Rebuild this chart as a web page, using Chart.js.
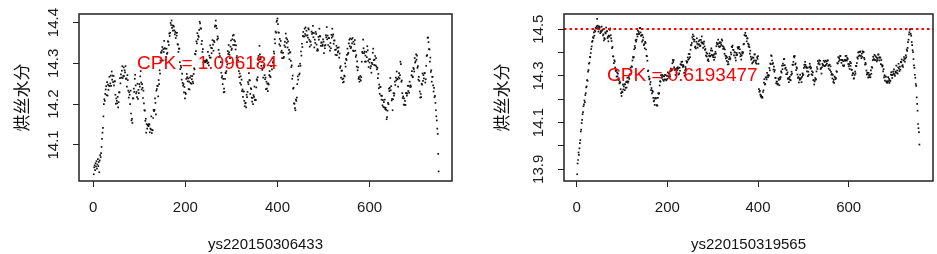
<!DOCTYPE html>
<html><head><meta charset="utf-8">
<script src="https://cdn.jsdelivr.net/npm/chart.js@4.4.1/dist/chart.umd.min.js"></script>
<style>
html,body{margin:0;padding:0;background:#fff;}
#wrap{position:relative;width:937px;height:254px;overflow:hidden;background:#fff;}
canvas{position:absolute;top:0;}
#c1{left:0;} #c2{left:468px;}
</style></head><body>
<div id="wrap"><canvas id="c1" width="468" height="254"></canvas><canvas id="c2" width="469" height="254"></canvas></div>
<script>
// ---- data (one value per sample index 1..n) ----
const moistureA = [
14.028,14.045,14.05,14.038,14.055,14.047,14.06,14.042,14.052,14.065,14.048,14.058,14.033,
14.062,14.075,14.07,14.08,14.095,14.115,14.13,
14.142,14.17,14.2,14.212,14.208,14.225,14.236,
14.244,14.222,14.254,14.221,14.248,14.235,14.245,14.267,14.244,14.251,
14.27,14.245,14.28,14.26,14.27,14.254,14.269,14.246,14.256,14.256,
14.223,14.201,14.214,14.208,14.202,14.218,14.192,14.205,14.229,14.229,14.264,14.251,
14.273,14.265,14.282,14.293,14.264,14.269,14.29,14.269,14.283,14.278,14.293,14.262,14.263,14.243,14.271,14.259,14.233,14.216,14.229,
14.223,14.2,14.233,14.177,14.16,14.164,14.154,14.214,14.214,14.238,14.23,14.262,
14.272,14.246,14.226,14.23,14.217,14.25,14.213,14.235,14.227,14.249,14.243,14.268,14.281,14.253,14.236,14.249,14.24,14.215,14.233,14.202,14.185,14.184,
14.159,14.164,14.13,14.151,14.14,14.149,14.147,14.146,14.151,14.15,14.131,14.14,14.138,14.17,14.129,14.136,14.136,14.166,14.186,14.183,
14.186,14.214,14.203,14.175,14.233,14.237,14.245,14.244,14.219,14.259,14.249,14.283,14.275,14.307,
14.327,14.326,14.331,14.34,14.307,14.335,14.328,14.355,14.337,14.336,14.308,14.316,14.336,14.323,14.326,14.354,14.353,14.345,14.373,14.367,14.375,14.399,
14.394,14.405,14.387,14.393,14.38,14.392,14.39,14.381,14.371,14.377,14.362,14.375,14.368,14.375,14.347,
14.346,14.328,14.336,14.336,14.303,14.286,14.294,14.29,14.26,14.275,14.252,14.245,14.249,14.229,14.242,14.214,14.228,
14.225,14.262,14.274,14.266,14.256,14.263,14.237,14.255,14.236,14.265,14.252,14.269,14.25,14.261,14.269,14.255,14.251,14.274,14.288,14.285,14.323,14.322,
14.33,14.354,14.349,14.374,14.359,14.368,14.365,14.382,14.402,14.398,14.386,14.385,14.347,14.355,14.328,14.335,
14.302,14.306,14.303,14.306,14.306,14.303,14.306,14.309,14.306,14.3,14.328,14.302,14.295,14.319,14.314,14.344,14.314,14.338,14.325,14.337,14.357,14.346,14.331,14.355,
14.352,14.39,14.393,14.405,14.392,14.386,14.358,14.366,14.361,14.333,
14.316,14.324,14.318,14.29,14.303,14.277,14.265,14.269,14.249,14.262,14.229,14.238,14.23,14.262,14.277,14.276,14.281,14.305,14.297,14.33,
14.323,14.345,14.327,14.321,14.313,14.341,14.356,14.333,14.336,14.359,14.368,14.345,14.37,14.357,14.345,14.354,14.334,14.344,14.314,14.318,14.295,14.307,14.307,
14.281,14.266,14.275,14.252,14.268,14.248,14.26,14.232,14.236,14.218,14.231,14.231,14.208,14.195,14.202,14.203,14.192,14.223,14.217,
14.23,14.254,14.249,14.276,14.259,14.258,14.225,14.239,14.237,14.216,14.206,14.215,14.2,14.222,14.218,14.243,14.21,14.211,14.21,14.241,14.261,14.258,14.266,14.299,
14.318,14.31,14.343,14.322,14.31,14.314,14.294,14.304,14.284,14.288,14.265,14.295,14.29,14.271,14.261,
14.265,14.237,14.255,14.238,14.25,14.232,14.251,14.248,14.271,14.281,14.268,14.266,14.294,14.293,14.285,14.313,14.302,14.305,14.329,14.324,14.359,
14.349,14.378,14.375,14.402,14.405,14.41,14.396,14.376,14.375,14.347,14.36,14.343,
14.355,14.327,14.331,14.313,14.326,14.326,14.313,14.316,14.344,14.353,14.34,14.373,14.362,14.35,14.359,14.339,14.354,14.324,14.333,14.31,14.327,14.327,14.306,14.291,14.295,
14.262,14.27,14.238,14.24,14.202,14.201,14.19,14.185,14.211,14.208,14.216,14.249,14.268,14.26,14.293,14.272,14.275,14.299,14.294,14.329,14.319,
14.348,14.34,14.367,14.377,14.366,14.366,14.385,14.372,14.388,14.368,14.38,14.352,14.369,14.363,14.386,14.383,14.358,14.341,14.354,14.353,14.345,14.378,14.372,14.375,14.392,14.364,
14.374,14.339,14.358,14.35,14.377,14.372,14.346,14.331,14.335,14.332,14.365,14.358,14.385,14.367,14.366,14.343,14.351,14.351,14.343,14.346,14.359,14.353,14.325,14.343,14.337,14.345,14.369,14.364,14.389,14.359,14.368,14.345,
14.362,14.362,14.341,14.331,14.35,14.337,14.37,14.363,14.385,14.367,14.371,14.348,14.356,14.356,14.333,14.321,14.334,14.343,14.32,14.338,14.327,14.33,14.339,
14.314,14.324,14.289,14.293,14.265,14.282,14.282,14.261,14.253,14.263,14.255,14.27,14.268,
14.3,14.292,14.311,14.308,14.321,14.336,14.323,14.326,14.349,14.358,14.342,14.361,14.337,14.34,14.359,14.349,14.362,14.331,14.353,14.33,14.347,14.357,14.331,
14.316,14.32,14.292,14.305,14.283,14.29,14.262,14.266,14.255,14.261,14.269,14.258,14.266,14.304,
14.328,14.325,14.358,14.337,14.325,14.329,14.304,14.319,14.304,14.328,14.315,14.342,14.332,14.306,14.291,14.31,14.302,14.31,14.288,14.293,14.277,14.301,14.298,14.326,14.336,14.308,14.296,14.309,14.318,14.295,14.313,
14.292,14.285,14.289,14.264,14.274,14.239,14.248,14.225,14.242,14.242,14.221,14.211,14.22,14.197,14.21,14.193,14.205,14.192,14.211,14.188,14.191,14.186,14.163,14.168,14.184,
14.203,14.2,14.238,14.232,14.24,14.264,14.234,14.244,14.209,14.213,14.185,14.212,14.227,14.221,14.226,14.255,
14.247,14.265,14.258,14.28,14.262,14.261,14.243,14.266,14.276,14.263,14.271,14.304,14.298,
14.255,14.258,14.227,14.215,14.219,14.199,14.214,14.198,14.208,14.198,14.227,14.227,14.221,14.226,14.245,14.232,14.245,14.228,14.255,14.242,14.246,
14.243,14.271,14.281,14.268,14.266,14.289,14.286,14.28,14.313,14.302,14.305,14.322,14.309,14.319,14.289,14.293,
14.26,14.267,14.257,14.231,14.216,14.225,14.217,14.25,14.248,14.275,14.257,14.271,14.263,14.276,14.276,14.253,
14.261,14.294,14.318,14.32,14.363,14.363,14.352,14.335,14.334,14.304,14.314,14.279,14.283,14.255,
14.267,14.267,14.246,14.231,14.24,14.217,14.22,14.203,14.185,14.17,14.16,14.14,14.127,14.078,14.035
];
const moistureB = [
13.879,13.925,13.94,13.972,13.962,13.99,14.012,14.025,14.062,14.07,
14.098,14.112,14.136,14.145,14.17,14.178,14.195,14.188,14.218,
14.226,14.251,14.255,14.282,14.279,14.318,14.325,14.352,14.356,14.381,14.38,14.398,
14.415,14.426,14.446,14.45,14.466,14.462,14.486,14.472,14.495,
14.49,14.506,14.503,14.512,14.544,14.515,14.507,14.49,14.512,14.501,14.508,14.483,14.492,14.488,14.511,14.494,14.497,14.473,
14.478,14.452,14.462,14.458,14.486,14.482,14.507,14.49,14.492,14.462,14.468,14.448,14.472,14.468,14.497,14.503,14.474,14.461,
14.449,14.419,14.424,14.384,14.383,14.355,14.367,14.362,14.336,14.321,14.325,14.297,14.315,14.298,14.31,14.282,14.286,14.268,
14.276,14.271,14.243,14.226,14.214,14.233,14.23,14.263,14.242,14.255,14.264,14.239,14.264,14.249,14.273,
14.25,14.277,14.292,14.271,14.276,14.295,14.287,14.305,14.308,14.335,14.322,14.341,14.338,14.366,14.381,14.378,14.381,14.414,14.428,14.42,14.453,
14.447,14.455,14.479,14.469,14.494,14.479,14.488,14.48,14.504,14.505,14.486,14.471,14.475,14.447,14.475,14.453,14.465,14.432,14.436,14.418,14.446,14.441,14.413,
14.386,14.384,14.365,14.32,14.323,14.297,14.285,14.289,14.264,14.274,14.239,14.248,14.225,14.237,14.232,14.206,14.191,14.195,14.176,14.205,14.203,14.205,14.174,14.174,14.173,
14.206,14.226,14.223,14.226,14.259,14.278,14.275,14.303,14.292,14.295,14.304,14.284,14.299,14.279,14.298,14.285,14.305,14.304,14.284,14.281,14.3,14.287,14.315,14.298,14.31,14.292,14.306,14.298,14.321,
14.331,14.323,14.326,14.354,14.368,14.36,14.368,14.337,14.325,14.329,14.304,14.329,14.314,14.333,14.325,14.337,14.332,14.306,14.311,14.335,14.322,14.35,14.348,14.36,14.347,14.361,14.338,14.346,14.341,14.313,14.301,14.324,14.338,14.33,14.363,14.357,14.36,14.379,14.369,14.394,14.374,14.393,14.38,
14.412,14.432,14.431,14.441,14.465,14.477,14.457,14.47,14.448,14.455,14.422,14.426,14.418,14.446,14.461,14.438,14.421,14.434,14.448,14.435,14.453,14.427,14.43,14.454,14.444,14.469,14.439,14.443,14.42,14.437,14.447,14.426,
14.411,14.415,14.387,14.4,14.383,14.395,14.367,14.371,14.363,14.386,14.396,14.383,14.386,14.409,14.418,14.39,14.408,14.387,14.38,14.389,14.369,14.394,14.379,14.403,
14.395,14.427,14.442,14.436,14.436,14.455,14.427,14.44,14.423,14.445,14.427,14.441,14.433,14.456,14.451,14.428,14.416,14.424,14.418,14.395,
14.413,14.387,14.375,14.384,14.364,14.379,14.349,14.36,14.35,14.372,14.382,14.371,14.376,14.4,
14.392,14.425,14.423,14.43,14.412,14.411,14.388,14.401,14.401,14.378,14.366,14.389,14.398,14.39,14.423,14.417,14.42,14.424,14.399,14.414,14.384,14.393,14.37,14.387,14.402,14.396,14.401,14.435,14.437,
14.475,14.473,14.484,14.472,14.471,14.448,14.461,14.461,14.438,14.426,14.434,
14.423,14.395,14.408,14.382,14.37,14.374,14.354,14.379,14.359,14.378,14.365,14.392,14.392,14.366,14.356,14.365,14.352,14.38,14.373,14.385,14.352,
14.243,14.232,14.236,14.22,14.212,14.216,14.207,14.21,14.207,
14.231,14.238,14.271,14.286,14.263,14.266,14.294,14.293,14.285,14.313,14.302,14.295,14.304,14.301,
14.334,14.324,14.353,14.35,14.388,14.385,14.366,14.351,14.355,14.327,14.34,
14.318,14.325,14.292,14.291,14.268,14.276,14.275,14.263,14.266,14.289,14.283,14.26,14.293,14.287,14.295,
14.319,14.314,14.344,14.329,14.353,14.345,14.372,14.372,14.346,14.331,14.335,14.307,14.325,14.308,14.315,
14.287,14.291,14.273,14.286,14.296,14.283,14.281,14.304,14.318,14.31,14.348,14.347,14.36,14.384,14.379,
14.385,14.349,14.353,14.325,14.337,14.332,14.306,14.291,14.295,14.272,14.29,14.283,14.305,14.287,14.291,14.273,14.296,
14.311,14.303,14.306,14.334,14.348,14.34,14.36,14.347,14.335,14.339,14.319,14.334,14.299,14.318,14.305,14.337,14.352,14.341,14.331,14.335,14.307,14.32,14.303,14.315,
14.282,14.281,14.263,14.276,14.291,14.283,14.286,
14.319,14.338,14.33,14.363,14.352,14.355,14.367,14.349,14.364,14.329,14.333,14.31,14.337,14.352,14.346,14.346,14.365,14.342,14.36,14.343,14.365,14.347,14.361,14.352,14.366,14.366,14.343,14.331,14.347,14.348,
14.325,14.341,14.317,14.305,14.309,14.289,14.304,14.274,14.283,14.27,14.297,14.292,14.286,14.291,
14.32,14.317,14.355,14.353,14.38,14.362,14.376,14.368,14.385,14.386,14.368,14.356,14.369,14.368,14.345,14.363,14.342,14.345,14.369,14.364,14.385,14.369,14.386,14.365,14.377,14.372,14.351,14.341,14.35,14.33,14.36,14.343,14.355,
14.327,14.326,14.303,14.311,14.311,14.288,14.29,14.304,14.318,14.31,14.343,
14.342,14.355,14.379,14.374,14.4,14.384,14.403,14.388,14.403,14.405,14.386,14.376,14.395,14.382,14.405,14.401,14.403,14.377,
14.371,14.348,14.356,14.351,14.323,14.306,14.314,14.308,14.293,14.313,14.302,14.295,14.304,14.294,14.324,14.309,14.338,14.335,
14.367,14.382,14.371,14.371,14.39,14.367,14.385,14.368,14.38,14.362,14.376,14.368,14.391,14.392,14.378,14.366,14.379,14.378,14.35,14.368,14.347,14.34,
14.344,14.319,14.329,14.294,14.303,14.28,14.297,14.297,14.276,14.271,14.277,14.271,14.295,14.278,14.287,14.27,14.281,14.278,
14.306,14.316,14.303,14.291,14.304,14.318,14.31,14.328,14.307,14.3,14.319,14.314,14.344,14.314,14.323,14.31,14.337,14.352,14.331,14.321,14.34,14.327,
14.36,14.358,14.37,14.342,14.346,14.338,14.366,14.381,14.373,14.361,14.374,14.388,14.38,14.413,14.407,
14.42,14.445,14.455,14.478,14.487,14.498,14.5,14.48,14.472,14.445,14.432,14.41,14.402,
14.372,14.345,14.334,14.305,14.292,14.265,14.257,14.208,14.18,14.151,14.094,14.076,14.059,14.006
];
const xTickValues = [0, 200, 400, 600];
const yTicksA = [14.1, 14.2, 14.3, 14.4];
const yLabelsA = ['14.1', '14.2', '14.3', '14.4'];
const yTicksB = [13.9, 14.0, 14.1, 14.2, 14.3, 14.4, 14.5];
const yLabelsB = ['13.9', '', '14.1', '', '14.3', '', '14.5'];
const xTitles = ['ys220150306433', 'ys220150319565'];
const yTitle = '烘丝水分';
const cpkTexts = ['CPK = 1.096184', 'CPK = 0.6193477'];
const upperLimitB = 14.5;

// ---- drawing ----
const LAT = '"Liberation Sans", Arial, sans-serif';
const boxPlugin = {
  id: 'rbox',
  afterDraw(chart) {
    const {ctx, chartArea: a} = chart;
    ctx.save();
    ctx.strokeStyle = '#222';
    ctx.lineWidth = 1.5;
    ctx.strokeRect(a.left, a.top, a.right - a.left, a.bottom - a.top);
    ctx.restore();
  }
};
const annoPlugin = {
  id: 'anno',
  afterDatasetsDraw(chart, args, opts) {
    const {ctx, chartArea: a} = chart;
    const xs = chart.scales.x, ys = chart.scales.y;
    ctx.save();
    if (opts.hline != null) {
      const py = Math.round(ys.getPixelForValue(opts.hline));
      ctx.strokeStyle = '#ff0000';
      ctx.lineWidth = 2;
      ctx.setLineDash([2.5, 3]);
      ctx.beginPath(); ctx.moveTo(a.left, py); ctx.lineTo(a.right, py); ctx.stroke();
      ctx.setLineDash([]);
    }
    ctx.fillStyle = '#ff0000';
    ctx.font = '19px ' + LAT;
    ctx.textAlign = 'center';
    ctx.textBaseline = 'middle';
    ctx.fillText(opts.text, xs.getPixelForValue(opts.tx), ys.getPixelForValue(opts.ty));
    ctx.restore();
  }
};

function makePanel(id, values, p) {
  const pts = values.map((v, i) => ({x: i + 1, y: v}));
  return new Chart(document.getElementById(id), {
    type: 'scatter',
    data: {datasets: [{data: pts, pointStyle: 'rect', pointRadius: 1.2, pointBorderWidth: 0,
      pointBackgroundColor: '#111', showLine: false}]},
    options: {
      responsive: false, animation: false, events: [],
      layout: {padding: {left: 0, top: 13, right: p.padRight, bottom: 0}},
      plugins: {legend: {display: false}, tooltip: {enabled: false},
        anno: {text: p.text, tx: p.tx, ty: p.ty, hline: p.hline}},
      scales: {
        x: {
          type: 'linear', min: p.xmin, max: p.xmax,
          afterBuildTicks: s => { s.ticks = xTickValues.map(v => ({value: v})); },
          afterFit: s => { s.height = 73; },
          ticks: {autoSkip: false, minRotation: 0, maxRotation: 0, padding: 12, color: '#1a1a1a',
            font: {family: LAT, size: 15}, callback: v => String(v)},
          grid: {drawOnChartArea: false, drawTicks: true, tickLength: 6, color: '#222', lineWidth: 1},
          border: {display: false},
          title: {display: true, text: p.xTitle, color: '#111', font: {family: LAT, size: 15},
            padding: {top: 0, bottom: 0}}
        },
        y: {
          type: 'linear', min: p.ymin, max: p.ymax,
          afterBuildTicks: s => { s.ticks = p.yTicks.map(v => ({value: v})); },
          afterFit: s => { s.width = p.yWidth; },
          ticks: {autoSkip: false, minRotation: 90, maxRotation: 90, crossAlign: 'center', padding: 5,
            color: '#1a1a1a', font: {family: LAT, size: 15}, callback: (v, i) => p.yLabels[i]},
          grid: {drawOnChartArea: false, drawTicks: true, tickLength: 6, color: '#222', lineWidth: 1},
          border: {display: false},
          title: {display: true, text: yTitle, color: '#111', font: {family: '"Noto Sans CJK SC"', size: 17},
            padding: {top: p.yTitlePad, bottom: 0}}
        }
      }
    },
    plugins: [annoPlugin, boxPlugin]
  });
}

makePanel('c1', moistureA, {padRight: 16, yWidth: 79, yTitlePad: 11.5, xmin: -31, xmax: 779,
  ymin: 14.0115, ymax: 14.421, yTicks: yTicksA, yLabels: yLabelsA, xTitle: xTitles[0],
  text: cpkTexts[0], tx: 247, ty: 14.3, hline: null});
makePanel('c2', moistureB, {padRight: 2, yWidth: 96, yTitlePad: 23.5, xmin: -28, xmax: 786,
  ymin: 13.85, ymax: 14.565, yTicks: yTicksB, yLabels: yLabelsB, xTitle: xTitles[1],
  text: cpkTexts[1], tx: 233, ty: 14.3, hline: upperLimitB});
</script>
</body></html>
